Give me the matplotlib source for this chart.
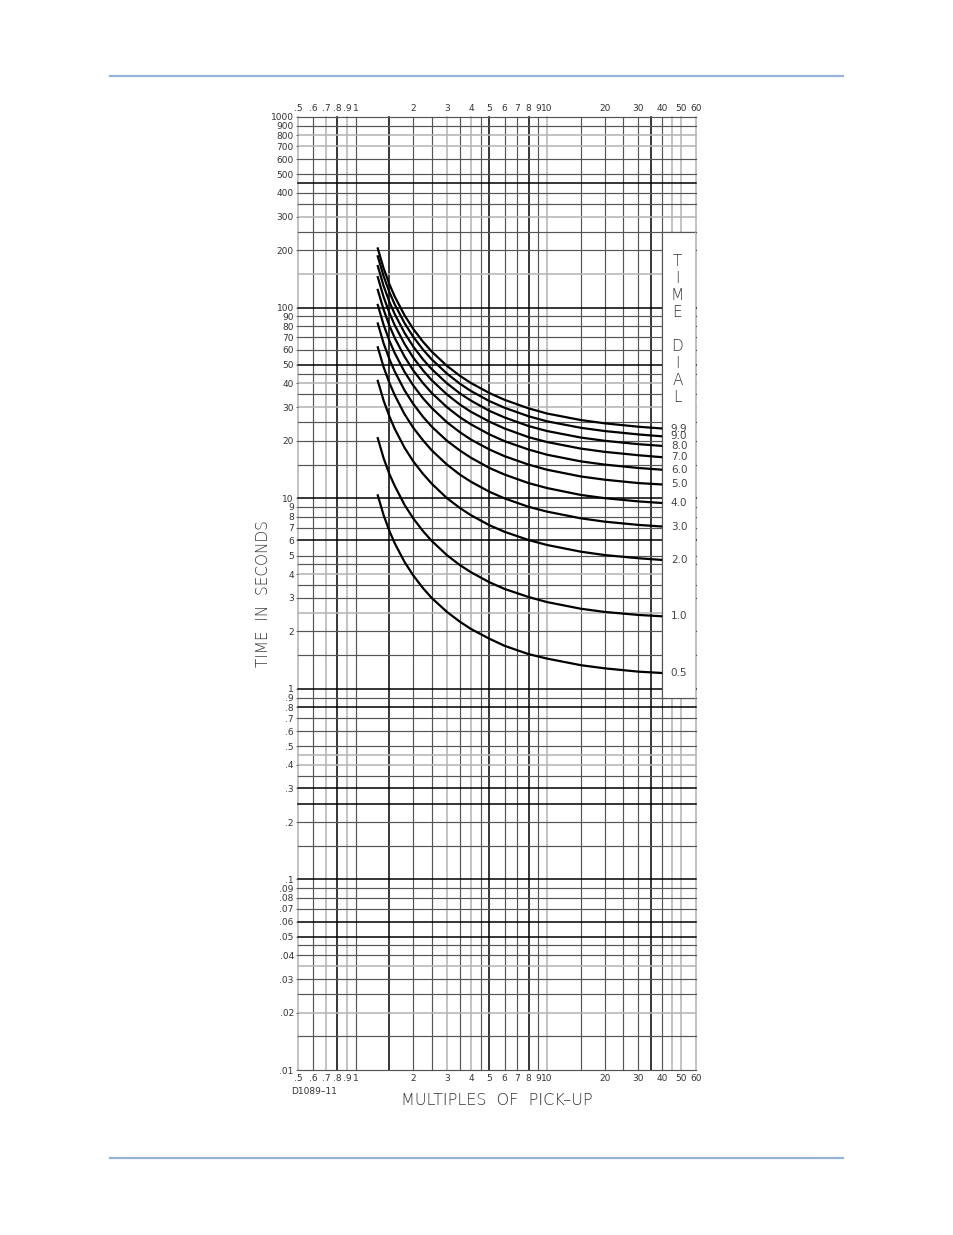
import matplotlib
matplotlib.use("Agg")
import matplotlib.pyplot as plt
from matplotlib.lines import Line2D
from matplotlib.patches import Rectangle

plt.rcParams['font.family'] = ['DejaVu Sans']

# multiples of pick-up where the curves were read
multiples = [1.3, 1.4, 1.5, 1.6, 1.8, 2.0, 2.25, 2.5, 3.0, 3.5, 4.0,
             5.0, 6.0, 8.0, 10, 15, 20, 30, 40]

# time in seconds, one list per time dial setting
t_05 = [10.48, 8.14, 6.74, 5.80, 4.63, 3.93, 3.37, 2.99, 2.53, 2.25, 2.06,
        1.83, 1.68, 1.52, 1.44, 1.33, 1.28, 1.23, 1.21]
t_10 = [20.9, 16.2, 13.4, 11.6, 9.23, 7.83, 6.71, 5.96, 5.02, 4.46, 4.09,
        3.62, 3.34, 3.03, 2.85, 2.63, 2.53, 2.44, 2.40]
t_20 = [41.8, 32.5, 26.9, 23.1, 18.4, 15.6, 13.4, 11.9, 10.0, 8.89, 8.14,
        7.21, 6.66, 6.03, 5.68, 5.24, 5.03, 4.84, 4.74]
t_30 = [62.7, 48.7, 40.3, 34.7, 27.6, 23.4, 20.1, 17.8, 15.0, 13.3, 12.2,
        10.8, 9.97, 9.01, 8.50, 7.84, 7.53, 7.24, 7.10]
t_40 = [83.6, 64.9, 53.7, 46.2, 36.8, 31.2, 26.7, 23.7, 20.0, 17.8, 16.3,
        14.4, 13.3, 12.0, 11.3, 10.4, 10.0, 9.62, 9.43]
t_50 = [104.5, 81.1, 67.1, 57.7, 46.0, 39.0, 33.4, 29.7, 25.0, 22.2, 20.3,
        18.0, 16.6, 15.0, 14.1, 13.0, 12.5, 12.0, 11.8]
t_60 = [125.4, 97.4, 80.5, 69.3, 55.3, 46.8, 40.1, 35.6, 30.0, 26.6, 24.4,
        21.6, 19.9, 18.0, 16.9, 15.6, 15.0, 14.4, 14.1]
t_70 = [146.3, 113.6, 93.9, 80.8, 64.5, 54.6, 46.8, 41.5, 35.0, 31.0, 28.4,
        25.2, 23.2, 20.9, 19.7, 18.2, 17.5, 16.8, 16.4]
t_80 = [167.2, 129.8, 107.3, 92.4, 73.7, 62.4, 53.4, 47.5, 40.0, 35.5, 32.5,
        28.7, 26.5, 23.9, 22.5, 20.8, 20.0, 19.2, 18.8]
t_90 = [188.1, 146.0, 120.7, 103.9, 82.9, 70.2, 60.1, 53.4, 45.0, 39.9, 36.5,
        32.3, 29.8, 26.9, 25.3, 23.4, 22.5, 21.6, 21.1]
t_99 = [206.9, 160.6, 132.8, 114.3, 91.1, 77.2, 66.1, 58.7, 49.4, 43.9, 40.2,
        35.6, 32.8, 29.6, 27.8, 25.7, 24.7, 23.7, 23.2]

dial_labels = ["0.5", "1.0", "2.0", "3.0", "4.0", "5.0", "6.0", "7.0", "8.0", "9.0", "9.9"]
curves = [t_05, t_10, t_20, t_30, t_40, t_50, t_60, t_70, t_80, t_90, t_99]

# tick labels
x_ticks = [0.5, 0.6, 0.7, 0.8, 0.9, 1, 2, 3, 4, 5, 6, 7, 8, 9, 10, 20, 30, 40, 50, 60]
x_labels = [".5", ".6", ".7", ".8", ".9", "1", "2", "3", "4", "5", "6", "7", "8",
            "9", "10", "20", "30", "40", "50", "60"]
y_ticks = [1000, 900, 800, 700, 600, 500, 400, 300, 200,
           100, 90, 80, 70, 60, 50, 40, 30, 20,
           10, 9, 8, 7, 6, 5, 4, 3, 2,
           1, .9, .8, .7, .6, .5, .4, .3, .2,
           .1, .09, .08, .07, .06, .05, .04, .03, .02, .01]
y_labels = ["1000", "900", "800", "700", "600", "500", "400", "300", "200",
            "100", "90", "80", "70", "60", "50", "40", "30", "20",
            "10", "9", "8", "7", "6", "5", "4", "3", "2",
            "1", ".9", ".8", ".7", ".6", ".5", ".4", ".3", ".2",
            ".1", ".09", ".08", ".07", ".06", ".05", ".04", ".03", ".02", ".01"]

# grid of the printed log paper
mant = [1, 1.5, 2, 2.5, 3, 3.5, 4, 4.5, 5, 6, 7, 8, 9]
vgrid = [m * d for d in (0.1, 1, 10) for m in mant if 0.5 <= m * d <= 60]
hgrid = [m * d for d in (0.01, 0.1, 1, 10, 100) for m in mant] + [1000]

v_black = [0.8, 1.5, 5, 8, 35]
v_light = [0.5, 0.7, 0.9, 3, 4, 10, 45, 50, 60]
h_black = [450, 100, 50, 10, 6, 1, 0.8, 0.3, 0.25, 0.1, 0.06, 0.05]
h_light = [800, 700, 300, 150, 40, 30, 4, 2.5, 0.45, 0.4, 0.035, 0.02]

GRAY = "#555555"
LIGHT = "#b3b3b3"


def gcol(v, blacks, lights):
    for b in blacks:
        if abs(v - b) < 1e-9 * max(1, b):
            return "black", 1.1
    for l in lights:
        if abs(v - l) < 1e-9 * max(1, l):
            return LIGHT, 1.1
    return GRAY, 0.85


fig = plt.figure(figsize=(9.54, 12.35), dpi=100)
ax = fig.add_axes([0.3124, 0.1336, 0.4172, 0.7717])
ax.set_xscale("log")
ax.set_yscale("log")
ax.set_xlim(0.5, 60)
ax.set_ylim(0.01, 1000)

for v in vgrid:
    c, w = gcol(v, v_black, v_light)
    ax.axvline(v, color=c, lw=w, zorder=1, clip_on=False)
for h in hgrid:
    c, w = gcol(h, h_black, h_light)
    ax.axhline(h, color=c, lw=w, zorder=1, clip_on=False)

# time dial panel
ax.add_patch(Rectangle((40, 0.9), 20, 250 - 0.9, facecolor="white",
                       edgecolor=GRAY, lw=0.85, zorder=2))
ax.plot([60, 60], [0.9, 250], color=LIGHT, lw=1.1, zorder=2.5)
ax.text(47.9, 77, "T\nI\nM\nE\n\nD\nI\nA\nL", ha="center", va="center",
        multialignment="center", fontsize=11, color="#333333",
        linespacing=1.17, zorder=4, fontweight="light")

for t, lab in zip(curves, dial_labels):
    ax.plot(multiples, t, color="black", lw=1.6, zorder=3, solid_capstyle="butt")
    ax.text(44.3, t[-1], lab, ha="left", va="center", fontsize=7.5,
            color="#444444", zorder=4)

for s in ax.spines.values():
    s.set_visible(False)

ax.set_xticks(x_ticks)
ax.set_xticklabels(x_labels)
ax.xaxis.set_minor_locator(plt.NullLocator())
ax.set_yticks(y_ticks)
ax.set_yticklabels(y_labels)
ax.yaxis.set_minor_locator(plt.NullLocator())
ax.tick_params(axis="x", which="both", length=0, labelsize=6.5, labelcolor="#333333",
               top=False, labeltop=True, pad=3)
ax.tick_params(axis="y", length=1.5, width=0.6, color=GRAY, labelsize=6.5,
               labelcolor="#333333", pad=1.5)

ax.set_ylabel("TIME  IN  SECONDS", fontsize=11, color="#333333", labelpad=0,
              fontweight="light")
ax.set_xlabel("MULTIPLES  OF  PICK\u2013UP", fontsize=11.5, color="#333333",
              labelpad=7, fontweight="light")

fig.text(291 / 954, 1 - 1091 / 1235, "D1089\u201311", fontsize=6.5, color="#333333",
         ha="left", va="center")

# page rules
for yp in (76, 1158):
    fig.add_artist(Line2D([110 / 954, 843 / 954], [1 - yp / 1235] * 2,
                          color="#95b3d7", lw=1.6, transform=fig.transFigure))

fig.savefig("out.png", dpi=100, facecolor="white")
